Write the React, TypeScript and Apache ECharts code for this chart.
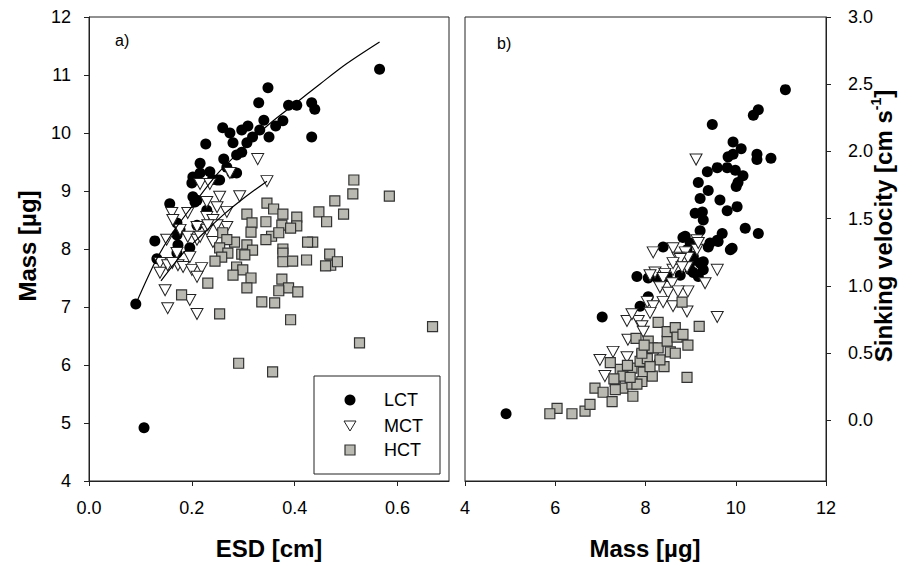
import React, { useEffect, useRef } from "react";
import * as echarts from "echarts";

// Panel a) ESD [cm] vs Mass [µg]
const lctLeft = [
  [0.565, 11.1], [0.348, 10.78], [0.33, 10.52], [0.388, 10.48], [0.404, 10.48], [0.433, 10.52], [0.439, 10.41], [0.433, 9.93],
  [0.26, 10.09], [0.227, 9.81], [0.297, 10.05], [0.309, 10.12], [0.34, 10.22], [0.377, 10.21], [0.363, 10.12], [0.35, 9.93], [0.332, 10.05],
  [0.318, 9.93], [0.307, 9.83], [0.297, 9.67], [0.287, 9.62], [0.274, 10.0], [0.28, 9.83], [0.216, 9.48],
  [0.202, 9.24], [0.2, 9.14], [0.216, 9.31], [0.235, 9.33], [0.254, 9.19], [0.268, 9.41], [0.278, 9.31], [0.287, 9.31],
  [0.202, 8.9], [0.21, 8.84], [0.157, 8.78], [0.206, 8.81], [0.229, 8.67], [0.171, 8.45], [0.177, 8.33], [0.171, 8.24], [0.173, 8.07], [0.171, 7.93],
  [0.128, 8.14], [0.132, 7.83], [0.196, 8.02], [0.21, 8.41], [0.091, 7.05], [0.107, 4.92], [0.262, 9.55], [0.24, 9.2], [0.249, 9.19]
];
const mctLeft = [
  [0.328, 9.55], [0.346, 9.17], [0.274, 9.31], [0.216, 9.12], [0.235, 9.12], [0.254, 8.9], [0.293, 8.91], [0.229, 8.81], [0.249, 8.72],
  [0.268, 8.64], [0.161, 8.62], [0.192, 8.62], [0.229, 8.55], [0.241, 8.5], [0.163, 8.5], [0.177, 8.33], [0.21, 8.38], [0.229, 8.33],
  [0.268, 8.38], [0.151, 8.16], [0.192, 8.21], [0.21, 8.16], [0.171, 7.93], [0.196, 7.86], [0.138, 7.76], [0.153, 7.72], [0.173, 7.72],
  [0.183, 7.69], [0.2, 7.64], [0.219, 7.67], [0.138, 7.59], [0.21, 7.52], [0.148, 7.29], [0.196, 7.12], [0.153, 6.98], [0.21, 6.88],
  [0.241, 8.12], [0.216, 8.21], [0.249, 8.41], [0.231, 8.41], [0.162, 7.76]
];
const hctLeft = [
  [0.515, 9.19], [0.513, 8.95], [0.584, 8.91], [0.478, 8.83], [0.447, 8.64], [0.462, 8.47], [0.495, 8.6], [0.346, 8.79], [0.359, 8.69],
  [0.377, 8.6], [0.307, 8.6], [0.317, 8.45], [0.315, 8.29], [0.344, 8.47], [0.404, 8.55], [0.404, 8.4], [0.375, 8.41], [0.392, 8.36],
  [0.355, 8.22], [0.369, 8.28], [0.344, 8.16], [0.435, 8.12], [0.26, 8.28], [0.283, 8.12], [0.268, 8.16], [0.307, 8.07], [0.318, 7.98],
  [0.254, 8.02], [0.27, 7.93], [0.258, 7.86], [0.245, 7.79], [0.297, 7.91], [0.303, 7.9], [0.377, 8.0], [0.377, 7.93], [0.377, 7.78],
  [0.396, 7.79], [0.423, 7.81], [0.468, 7.91], [0.47, 7.72], [0.483, 7.78], [0.46, 7.71], [0.287, 7.69], [0.299, 7.64], [0.28, 7.55],
  [0.315, 7.5], [0.307, 7.33], [0.231, 7.41], [0.375, 7.48], [0.388, 7.33], [0.369, 7.28], [0.406, 7.26], [0.336, 7.09], [0.361, 7.07],
  [0.392, 6.78], [0.254, 6.88], [0.526, 6.38], [0.668, 6.66], [0.291, 6.03], [0.357, 5.88], [0.18, 7.21], [0.425, 8.12]
];
const lctFit = [
  [0.091, 7.05], [0.13, 7.8], [0.16, 8.25], [0.2, 8.73], [0.25, 9.3], [0.3, 9.74], [0.35, 10.15], [0.4, 10.5], [0.45, 10.85], [0.5, 11.19], [0.565, 11.57]
];
const mctFit = [
  [0.14, 7.45], [0.18, 7.9], [0.22, 8.25], [0.26, 8.58], [0.3, 8.87], [0.346, 9.17]
];

// Panel b) Mass [µg] vs Sinking velocity [cm s-1]
const lctRight = [
  [11.1, 2.46], [10.5, 2.31], [10.39, 2.27], [9.48, 2.2], [9.94, 2.07], [10.12, 2.02], [9.94, 1.98], [9.83, 1.96], [10.47, 1.98], [10.47, 1.94],
  [10.78, 1.95], [9.37, 1.85], [9.59, 1.88], [9.81, 1.88], [9.99, 1.86], [10.16, 1.82], [10.05, 1.77], [10.01, 1.74], [9.17, 1.77], [9.39, 1.71],
  [9.21, 1.65], [9.65, 1.64], [9.1, 1.54], [9.28, 1.49], [9.26, 1.55], [9.81, 1.56], [10.03, 1.59], [10.21, 1.43], [10.5, 1.39], [9.21, 1.41],
  [9.7, 1.39], [9.59, 1.34], [9.39, 1.29], [9.92, 1.28], [8.88, 1.37], [8.39, 1.29], [9.06, 1.22], [9.28, 1.18], [9.43, 1.32], [9.61, 1.33],
  [8.83, 1.36], [8.99, 1.32], [8.92, 1.27], [9.06, 1.19], [9.21, 1.17], [9.28, 1.12], [9.06, 1.1], [8.77, 1.08], [8.48, 1.07], [8.26, 1.06],
  [7.81, 1.07], [8.06, 1.06], [8.99, 1.12], [9.17, 1.07], [8.06, 0.92], [7.88, 0.85], [7.04, 0.77], [4.91, 0.05], [9.88, 1.27]
];
const mctRight = [
  [9.12, 1.94], [8.17, 1.25], [8.61, 1.28], [8.88, 1.25], [9.14, 1.34], [9.14, 1.27], [8.72, 1.21], [8.94, 1.21], [9.59, 1.12], [9.17, 1.32],
  [8.77, 1.2], [8.92, 1.14], [8.61, 1.12], [8.21, 1.1], [8.43, 1.09], [9.32, 1.02], [8.94, 0.96], [8.92, 0.81], [9.59, 0.77], [8.61, 1.17],
  [8.81, 1.14], [8.1, 1.08], [8.39, 1.06], [8.59, 1.02], [8.32, 0.99], [8.5, 0.95], [8.72, 0.96], [8.04, 0.88], [8.17, 0.85], [8.39, 0.88],
  [8.61, 0.85], [7.59, 0.74], [7.84, 0.74], [7.92, 0.7], [7.7, 0.79], [8.1, 0.8], [7.61, 0.6], [7.28, 0.51], [6.99, 0.45], [7.59, 0.47],
  [7.1, 0.33], [8.17, 0.47], [7.95, 0.66]
];
const hctRight = [
  [6.37, 0.05], [6.66, 0.07], [6.77, 0.12], [6.04, 0.09], [5.88, 0.05], [6.88, 0.24], [7.06, 0.21], [7.26, 0.14], [7.33, 0.29], [7.5, 0.24],
  [7.33, 0.23], [7.7, 0.27], [7.72, 0.18], [7.44, 0.38], [7.7, 0.39], [7.95, 0.36], [8.15, 0.33], [7.92, 0.29], [7.81, 0.27], [7.22, 0.43],
  [7.5, 0.33], [7.66, 0.32], [7.92, 0.49], [7.88, 0.44], [8.04, 0.46], [7.79, 0.61], [7.92, 0.5], [8.06, 0.59], [8.15, 0.54], [8.28, 0.54],
  [8.48, 0.59], [8.55, 0.51], [8.66, 0.5], [8.41, 0.4], [8.32, 0.45], [8.28, 0.73], [8.48, 0.66], [8.66, 0.69], [8.7, 0.62], [8.83, 0.64],
  [8.94, 0.56], [8.81, 0.88], [9.19, 0.7], [8.92, 0.32], [7.97, 0.56], [7.6, 0.41], [8.1, 0.4], [7.3, 0.31]
];

const legendNames = ["LCT", "MCT", "HCT"];

const FONT = "'Liberation Sans', Arial, Helvetica, sans-serif";
const AXIS = "#222";
const SQUARE_FILL = "#b9b9b1";
const SQUARE_EDGE = "#333";

export default function App() {
  const ref = useRef<HTMLDivElement>(null);
  useEffect(() => {
    if (!ref.current) return;
    const chart = echarts.init(ref.current, null, { renderer: "svg" });
    const labelStyle = { fontSize: 18, color: "#000", fontFamily: FONT };
    const tick = { show: true, length: 5, lineStyle: { color: AXIS, width: 1 } };
    const line = { show: true, onZero: false, lineStyle: { color: AXIS, width: 1 } };

    const circle = { symbol: "circle", symbolSize: 11, itemStyle: { color: "#000", opacity: 1 } };
    const tri = {
      symbol: "triangle", symbolSize: [12, 11], symbolRotate: 180,
      itemStyle: { color: "#fff", borderColor: "#222", borderWidth: 1, opacity: 1 }
    };
    const sq = {
      symbol: "rect", symbolSize: 10,
      itemStyle: { color: SQUARE_FILL, borderColor: SQUARE_EDGE, borderWidth: 1.2, opacity: 1 }
    };
    const fitStyle = {
      type: "line", showSymbol: false, symbol: "none", smooth: 0.3, z: 5,
      lineStyle: { color: "#000", width: 1.2 }, xAxisIndex: 0, yAxisIndex: 0
    };

    chart.setOption({
      animation: false,
      backgroundColor: "#fff",
      grid: [
        { left: 89, top: 17, width: 360, height: 464, show: true, borderColor: AXIS, borderWidth: 1, backgroundColor: "transparent" },
        { left: 465, top: 17, width: 361, height: 464, show: true, borderColor: AXIS, borderWidth: 1, backgroundColor: "transparent" }
      ],
      xAxis: [
        {
          gridIndex: 0, type: "value", min: 0, max: 0.7, interval: 0.2,
          axisLine: line, axisTick: tick, splitLine: { show: false },
          axisLabel: { ...labelStyle, margin: 18, showMaxLabel: false, formatter: (v: number) => v.toFixed(1) }
        },
        {
          gridIndex: 1, type: "value", min: 4, max: 12, interval: 2,
          axisLine: line, axisTick: tick, splitLine: { show: false },
          axisLabel: { ...labelStyle, margin: 18, formatter: (v: number) => String(v) }
        }
      ],
      yAxis: [
        {
          gridIndex: 0, type: "value", min: 4, max: 12, interval: 1,
          axisLine: line, axisTick: tick, splitLine: { show: false },
          axisLabel: { ...labelStyle, margin: 18, formatter: (v: number) => String(v) }
        },
        {
          gridIndex: 1, type: "value", position: "right", min: -0.45, max: 3.0,
          minInterval: 0.5, maxInterval: 0.5,
          axisLine: line, axisTick: tick, splitLine: { show: false },
          axisLabel: { ...labelStyle, margin: 22, showMinLabel: false, formatter: (v: number) => v.toFixed(1) }
        }
      ],
      series: [
        { name: legendNames[0], type: "scatter", xAxisIndex: 0, yAxisIndex: 0, data: lctLeft, z: 2, ...circle },
        { name: legendNames[1], type: "scatter", xAxisIndex: 0, yAxisIndex: 0, data: mctLeft, z: 3, ...tri },
        { name: legendNames[2], type: "scatter", xAxisIndex: 0, yAxisIndex: 0, data: hctLeft, z: 4, ...sq },
        { name: legendNames[0] + " b", type: "scatter", xAxisIndex: 1, yAxisIndex: 1, data: lctRight, z: 2, ...circle },
        { name: legendNames[1] + " b", type: "scatter", xAxisIndex: 1, yAxisIndex: 1, data: mctRight, z: 3, ...tri },
        { name: legendNames[2] + " b", type: "scatter", xAxisIndex: 1, yAxisIndex: 1, data: hctRight, z: 4, ...sq },
        { name: "LCT fit", data: lctFit, ...fitStyle },
        { name: "MCT fit", data: mctFit, ...fitStyle }
      ],
      graphic: [
        { type: "text", x: 115, y: 40, style: { text: "a)", fontSize: 16, fontFamily: FONT, fill: "#000", textVerticalAlign: "middle" } },
        { type: "text", x: 497, y: 43, style: { text: "b)", fontSize: 16, fontFamily: FONT, fill: "#000", textVerticalAlign: "middle" } },
        {
          type: "text", x: 27, y: 246, rotation: Math.PI / 2,
          style: { text: "Mass [µg]", fontSize: 24, fontWeight: "bold", fontFamily: FONT, fill: "#000", textAlign: "center", textVerticalAlign: "middle" }
        },
        {
          type: "text", x: 269, y: 548,
          style: { text: "ESD [cm]", fontSize: 24, fontWeight: "bold", fontFamily: FONT, fill: "#000", textAlign: "center", textVerticalAlign: "middle" }
        },
        {
          type: "text", x: 645, y: 548,
          style: { text: "Mass [µg]", fontSize: 24, fontWeight: "bold", fontFamily: FONT, fill: "#000", textAlign: "center", textVerticalAlign: "middle" }
        },
        {
          type: "text", x: 883, y: 226, rotation: Math.PI / 2,
          style: {
            text: "{m|Sinking velocity [cm s}{s|-1}{m|]}",
            textAlign: "center", textVerticalAlign: "middle", fill: "#000",
            rich: {
              m: { fontSize: 24, fontWeight: "bold", fontFamily: FONT, fill: "#000" },
              s: { fontSize: 14, fontWeight: "bold", fontFamily: FONT, fill: "#000", padding: [0, 0, 14, 0] }
            }
          }
        },
        {
          type: "group", z: 100,
          children: [
            { type: "rect", shape: { x: 314, y: 376, width: 126, height: 98 }, style: { fill: "#fff", stroke: AXIS, lineWidth: 1 } },
            { type: "circle", shape: { cx: 350, cy: 400, r: 5.5 }, style: { fill: "#000" } },
            { type: "polygon", shape: { points: [[344, 421], [356, 421], [350, 431]] }, style: { fill: "#fff", stroke: "#222", lineWidth: 1 } },
            { type: "rect", shape: { x: 345, y: 445, width: 10, height: 10 }, style: { fill: SQUARE_FILL, stroke: SQUARE_EDGE, lineWidth: 1.2 } },
            { type: "text", x: 384, y: 400, style: { text: legendNames[0], fontSize: 18, fontFamily: FONT, fill: "#000", textVerticalAlign: "middle" } },
            { type: "text", x: 384, y: 426, style: { text: legendNames[1], fontSize: 18, fontFamily: FONT, fill: "#000", textVerticalAlign: "middle" } },
            { type: "text", x: 384, y: 450, style: { text: legendNames[2], fontSize: 18, fontFamily: FONT, fill: "#000", textVerticalAlign: "middle" } }
          ]
        }
      ]
    });
    return () => chart.dispose();
  }, []);
  return <div ref={ref} style={{ position: "fixed", left: 0, top: 0, width: 920, height: 566, background: "#fff" }} />;
}
